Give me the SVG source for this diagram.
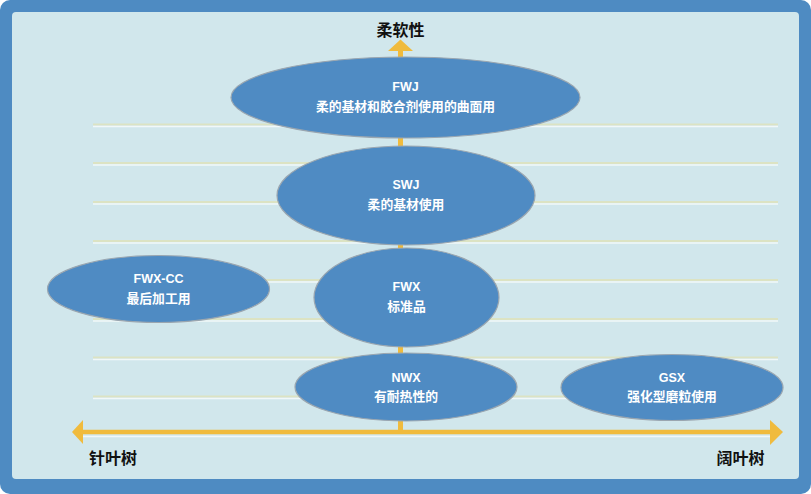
<svg xmlns="http://www.w3.org/2000/svg" width="811" height="494" viewBox="0 0 811 494">
<style>
.ell{fill:#4F8BC3;stroke:#9AA6B0;stroke-width:1.2}
.t{font-family:"Liberation Sans","Noto Sans CJK SC",sans-serif;font-weight:bold;fill:#FFFFFF;text-anchor:middle}
.t1{font-size:12.5px}
.t2{font-size:12.8px}
.ax{font-family:"Noto Sans CJK SC",sans-serif;font-size:16px;fill:#111;font-weight:bold}
.gl{stroke:#DCE3C3;stroke-width:2}
.wl{stroke:#F1F8F9;stroke-width:1.6}
</style>
<rect x="0" y="0" width="811" height="494" rx="10" fill="#4E8BC2"/>
<rect x="12" y="12" width="787" height="467" rx="4" fill="#D1E7EC"/>
<g id="gridlines">
<line class="gl" x1="93" y1="124.5" x2="778" y2="124.5"/><line class="wl" x1="93" y1="126.5" x2="778" y2="126.5"/>
<line class="gl" x1="93" y1="163" x2="778" y2="163"/><line class="wl" x1="93" y1="165" x2="778" y2="165"/>
<line class="gl" x1="93" y1="202" x2="778" y2="202"/><line class="wl" x1="93" y1="204" x2="778" y2="204"/>
<line class="gl" x1="93" y1="241" x2="778" y2="241"/><line class="wl" x1="93" y1="243" x2="778" y2="243"/>
<line class="gl" x1="93" y1="280" x2="778" y2="280"/><line class="wl" x1="93" y1="282" x2="778" y2="282"/>
<line class="gl" x1="93" y1="319" x2="778" y2="319"/><line class="wl" x1="93" y1="321" x2="778" y2="321"/>
<line class="gl" x1="93" y1="357.5" x2="778" y2="357.5"/><line class="wl" x1="93" y1="359.5" x2="778" y2="359.5"/>
<line class="gl" x1="93" y1="396.5" x2="778" y2="396.5"/><line class="wl" x1="93" y1="398.5" x2="778" y2="398.5"/>
</g>
<g id="connectors">
<line x1="83" y1="436.5" x2="770" y2="436.5" stroke="#F1F8F9" stroke-width="1.6"/>
<line x1="82" y1="432" x2="772" y2="432" stroke="#F0BB3D" stroke-width="4.5"/>
<polygon points="72,432 83,420 83,444" fill="#F0BB3D"/>
<polygon points="783,432 770,420 770,445" fill="#F0BB3D"/>
<line x1="400.5" y1="432" x2="400.5" y2="50" stroke="#F0BB3D" stroke-width="5"/>
<polygon points="400.5,39.5 388,51 413,51" fill="#F0BB3D"/>
</g>
<text class="ax" x="400.5" y="35.5" text-anchor="middle">柔软性</text>
<text class="ax" x="89" y="463.5">针叶树</text>
<text class="ax" x="716.5" y="463.5">阔叶树</text>
<g id="FWJ">
<ellipse class="ell" cx="405.5" cy="97.5" rx="174.5" ry="40.5"/>
<text class="t t1" x="405.5" y="90.5">FWJ</text>
<text class="t t2" x="405.5" y="110.5">柔的基材和胶合剂使用的曲面用</text>
</g>
<g id="SWJ">
<ellipse class="ell" cx="406" cy="195.5" rx="129" ry="49.5"/>
<text class="t t1" x="406" y="189">SWJ</text>
<text class="t t2" x="406" y="208.5">柔的基材使用</text>
</g>
<g id="FWX">
<ellipse class="ell" cx="406.5" cy="297.5" rx="92.5" ry="49.5"/>
<text class="t t1" x="406.5" y="291">FWX</text>
<text class="t t2" x="406.5" y="310.5">标准品</text>
</g>
<g id="FWX-CC">
<ellipse class="ell" cx="158.5" cy="289" rx="111" ry="33.5"/>
<text class="t t1" x="158.5" y="283">FWX-CC</text>
<text class="t t2" x="158.5" y="302.5">最后加工用</text>
</g>
<g id="NWX">
<ellipse class="ell" cx="406" cy="387" rx="111" ry="34"/>
<text class="t t1" x="406" y="381.5">NWX</text>
<text class="t t2" x="406" y="400.5">有耐热性的</text>
</g>
<g id="GSX">
<ellipse class="ell" cx="672" cy="387.5" rx="111" ry="33"/>
<text class="t t1" x="672" y="381.5">GSX</text>
<text class="t t2" x="672" y="401">强化型磨粒使用</text>
</g>
</svg>
